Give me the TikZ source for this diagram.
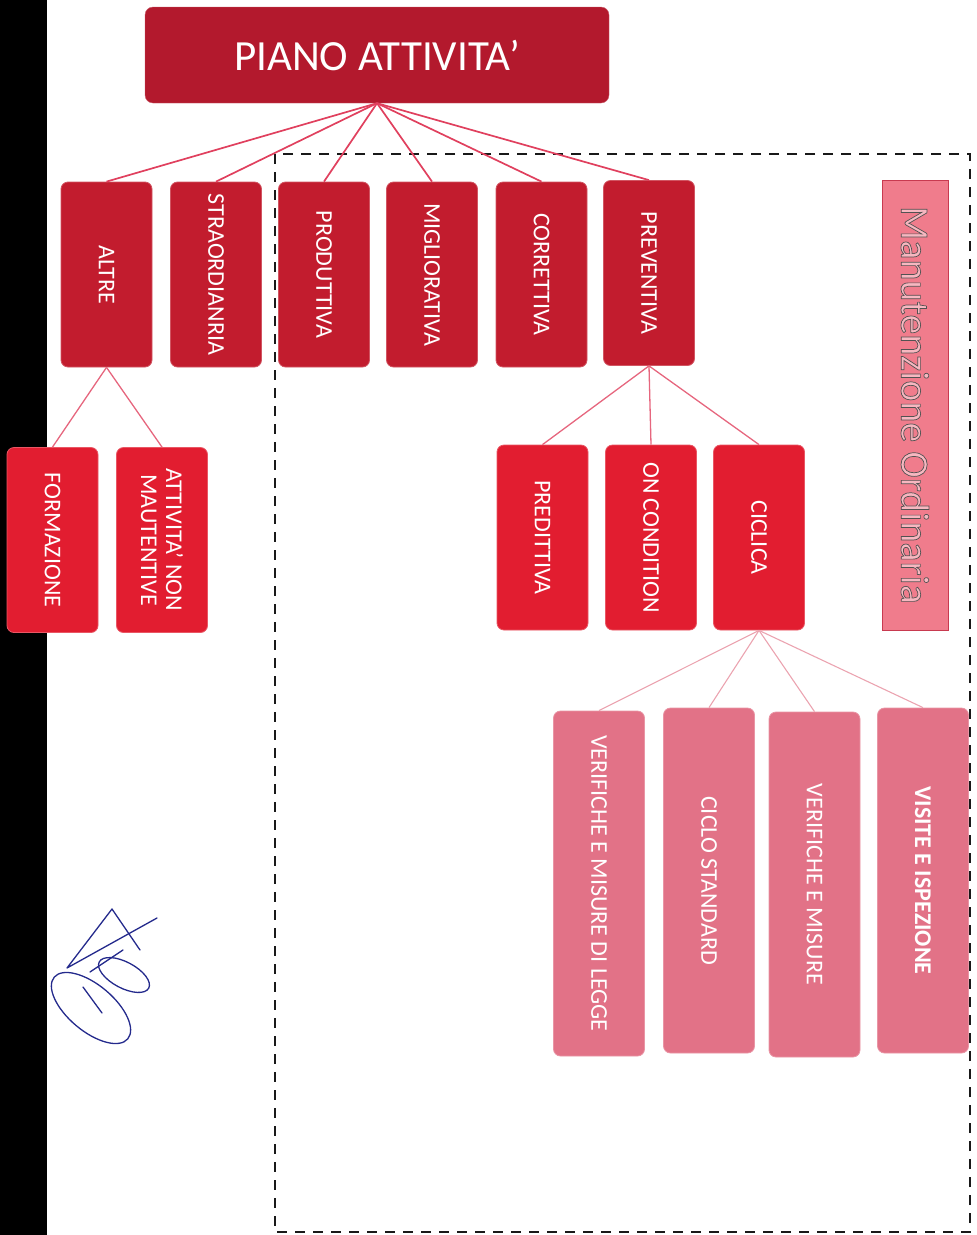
\documentclass[tikz,border=0pt]{standalone}
\usepackage{fontspec}
\setmainfont{Carlito}
\usetikzlibrary{positioning}

\definecolor{titlered}{HTML}{B3192D}
\definecolor{rowred}{HTML}{C21C2E}
\definecolor{subred}{HTML}{E21D30}
\definecolor{rosa}{HTML}{E27287}
\definecolor{manutfill}{HTML}{F07C8C}
\definecolor{manutline}{HTML}{C83A50}
\definecolor{linkred}{HTML}{E0405E}
\definecolor{linkrosa}{HTML}{EBA3B0}
\definecolor{inchiostro}{HTML}{242A8C}

\tikzset{
  titlebox/.style={rounded corners=8pt, draw=titlered!70!white, fill=titlered,
    text=white, minimum width=464pt, minimum height=96pt,
    font=\fontsize{43}{46}\selectfont},
  box/.style={rounded corners=7pt, draw=#1!75!white, line width=0.8pt, fill=#1,
    text=white, rotate=-90, minimum width=185pt, minimum height=91pt,
    align=center, inner sep=2pt, font=\fontsize{24}{25}\selectfont},
  longbox/.style={box=rosa, minimum width=345pt},
  link/.style={draw=linkred, line width=1.7pt},
  sublink/.style={draw=linkred!80!white, line width=1.3pt},
  thinlink/.style={draw=linkrosa, line width=1.1pt},
  frame/.style={draw=black!90, line width=2.4pt, dash pattern=on 10pt off 8pt},
  sign/.style={draw=inchiostro, line width=1.3pt, line cap=round, line join=round}
}

\newcommand{\hollowtext}[1]{\special{pdf:literal direct 2 Tr 0.7 w 0.32 0.32 0.32 RG}#1\special{pdf:literal direct 0 Tr}}

\begin{document}
\begin{tikzpicture}[x=1pt,y=-1pt]
  \useasboundingbox (0,0) rectangle (977,1235);
  \fill[black] (0,0) rectangle (47,1235);
  \draw[frame] (275,154) rectangle (970,1232);

  \node[titlebox] (piano) at (377,55) {PIANO ATTIVITA’};

  \node[box=rowred] (altre) at (106.5,274.5) {ALTRE};
  \node[box=rowred] (straord) at (216,274.5) {STRAORDIANRIA};
  \node[box=rowred] (produt) at (324,274.5) {PRODUTTIVA};
  \node[box=rowred] (miglior) at (432,274.5) {MIGLIORATIVA};
  \node[box=rowred] (corret) at (541.5,274.5) {CORRETTIVA};
  \node[box=rowred] (prevent) at (649,273) {PREVENTIVA};

  \node[box=subred] (formaz) at (52.5,540) {FORMAZIONE};
  \node[box=subred] (attiv) at (162,540) {ATTIVITA’ NON\\MAUTENTIVE};

  \node[box=subred] (preditt) at (542.5,537.5) {PREDITTIVA};
  \node[box=subred] (oncond) at (651,537.5) {ON CONDITION};
  \node[box=subred] (ciclica) at (759,537.5) {CICLICA};

  \node[longbox] (vmlegge) at (599,883.5) {VERIFICHE E MISURE DI LEGGE};
  \node[longbox] (ciclostd) at (709,880.5) {CICLO STANDARD};
  \node[longbox] (vmisure) at (814.5,884.5) {VERIFICHE E MISURE};
  \node[longbox] (visite) at (923,880.5) {\bfseries VISITE E ISPEZIONE};

  \node[draw=manutline, line width=1pt, fill=manutfill, rotate=-90,
    minimum width=450pt, minimum height=66pt, text=manutfill!55!white,
    font=\fontsize{40}{42}\selectfont] (manut) at (915,405)
    {\hollowtext{Manutenzione Ordinaria}};

  \foreach \c in {altre,straord,produt,miglior,corret,prevent}
    \draw[link] (piano.south) -- (\c.west);
  \foreach \c in {formaz,attiv}
    \draw[sublink] (altre.east) -- (\c.west);
  \foreach \c in {preditt,oncond,ciclica}
    \draw[sublink] (prevent.east) -- (\c.west);
  \foreach \c in {vmlegge,ciclostd,vmisure,visite}
    \draw[thinlink] (ciclica.east) -- (\c.west);

  \draw[sign, rotate around={-40:(91,1008)}] (91,1008) ellipse [x radius=48pt, y radius=23pt];
  \draw[sign, rotate around={-28:(124,975)}] (124,975) ellipse [x radius=28pt, y radius=13pt];
  \draw[sign] (157,918) -- (67,968) -- (112,909) -- (140,950);
  \draw[sign] (90,972) -- (123,950);
  \draw[sign] (83,987) -- (102,1013);
\end{tikzpicture}
\end{document}
